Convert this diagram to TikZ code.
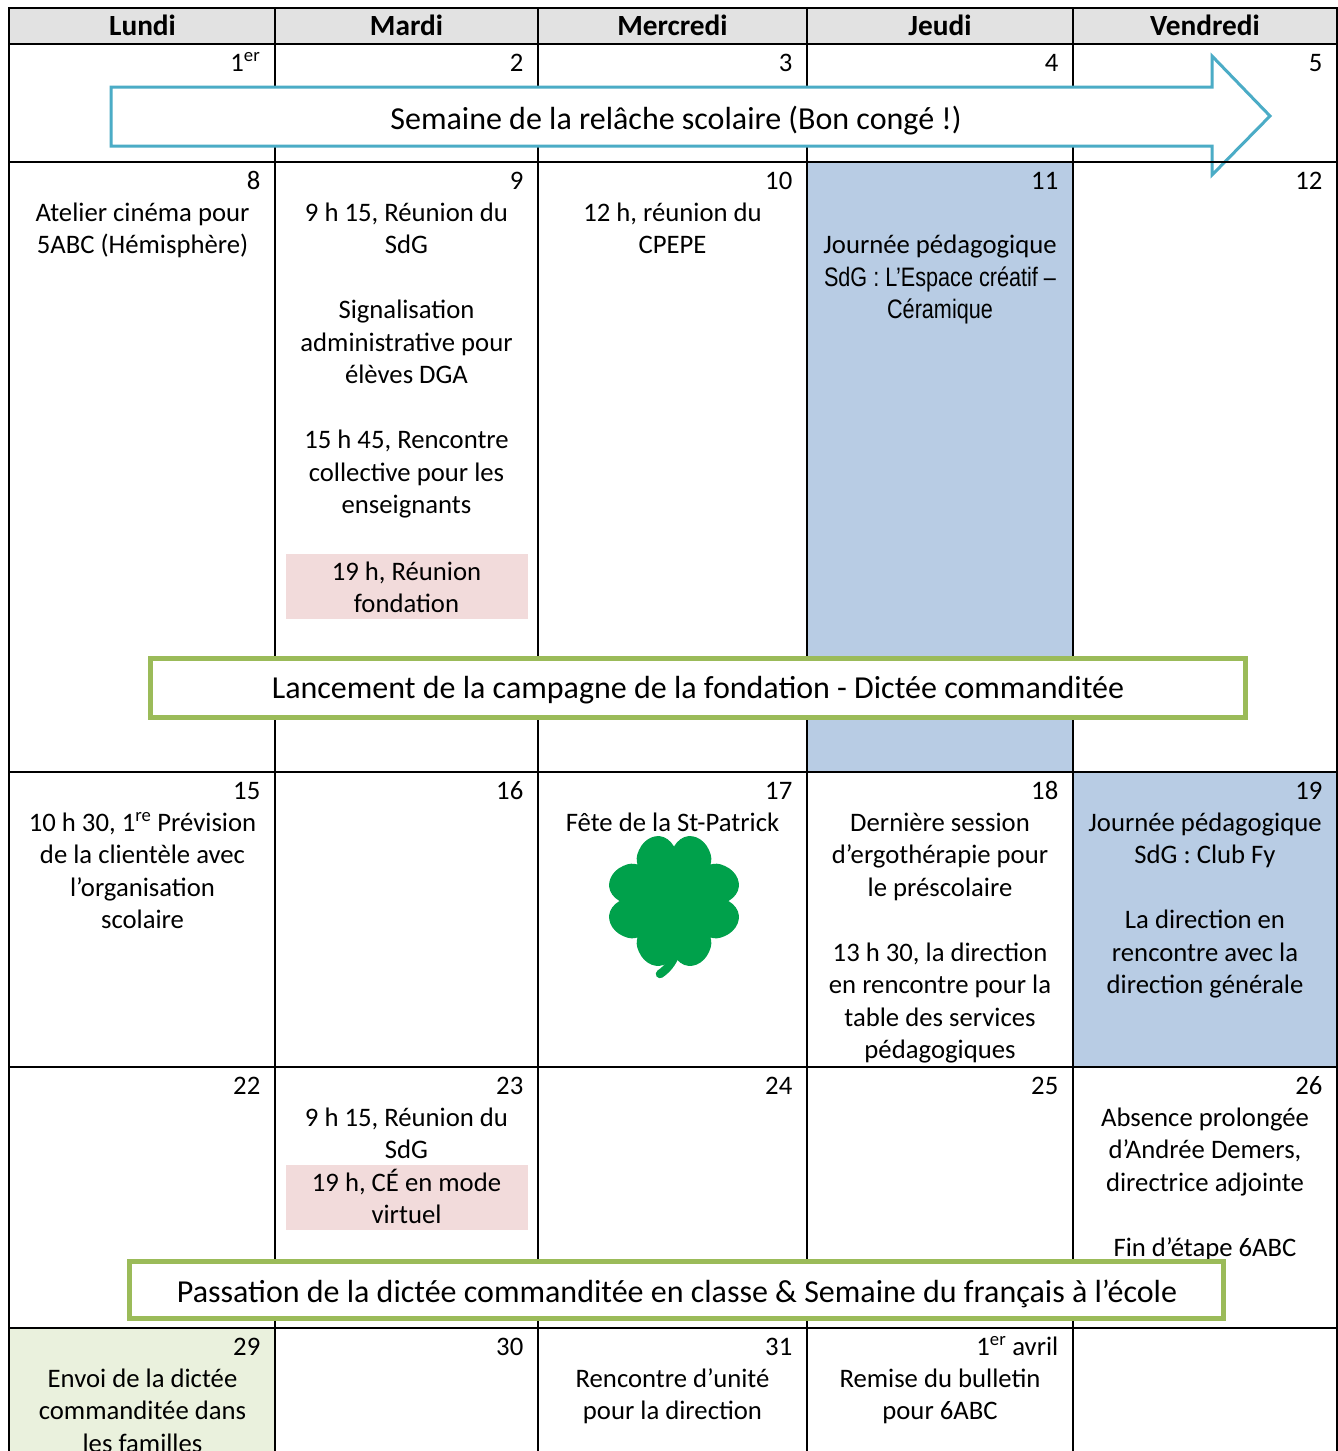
\documentclass[tikz,border=0pt]{standalone}
\usepackage{fontspec}
\setmainfont{Carlito}
\newfontfamily\narrowfont[FakeStretch=0.81]{Liberation Sans}
\definecolor{hdr}{RGB}{226,226,226}
\definecolor{bluec}{RGB}{184,204,228}
\definecolor{pinkc}{RGB}{242,219,219}
\definecolor{greenc}{RGB}{234,241,221}
\definecolor{bannerg}{RGB}{155,187,89}
\definecolor{arrowc}{RGB}{75,172,198}
\definecolor{cloverc}{RGB}{0,161,75}
\begin{document}
\begin{tikzpicture}[x=1pt,y=-1pt,
  body/.style={font=\fontsize{26.7}{32.5}\selectfont, inner sep=0pt},
  daynum/.style={body, anchor=base east},
  celltext/.style={body, anchor=base, text width=250pt, align=flush center},
  head/.style={font=\fontsize{29.3}{34}\selectfont\bfseries, inner sep=0pt, anchor=base},
  bigtext/.style={font=\fontsize{32}{38}\selectfont, inner sep=0pt, anchor=base},
  gridline/.style={line width=2.3pt, black},
  pinkbox/.style={fill=pinkc, draw=none, minimum width=242pt, minimum height=65pt, inner sep=0pt},
  banner/.style={draw=bannerg, line width=5pt, fill=white},
  leaf/.style={fill=cloverc}
]
\useasboundingbox (0,0) rectangle (1338,1451);
\clip (0,0) rectangle (1338,1451);
% backgrounds
\fill[white] (0,0) rectangle (1338,1451);
\fill[hdr] (9,8) rectangle (1337,44);
\fill[bluec] (807,162) rectangle (1073,772);
\fill[bluec] (1073,772) rectangle (1337,1067);
\fill[greenc] (9,1328) rectangle (275,1460);
\node[pinkbox] (pk1) at (407,586.5) {};
\node[pinkbox] (pk2) at (407,1197.5) {};
% grid
\draw[gridline] (9,8) rectangle (1337,1470);
\foreach \yy in {44,162,772,1067,1328} \draw[gridline] (9,\yy) -- (1337,\yy);
\foreach \xx in {275,538,807,1073} \draw[gridline] (\xx,8) -- (\xx,1470);
% arrow
\draw[arrowc, line width=3pt, fill=white, line join=miter] (111,87) -- (1212,87) -- (1212,56) -- (1270,116) -- (1212,175) -- (1212,146) -- (111,146) -- cycle;
\draw[gridline] (1073,162) -- (1337,162);
% headers
\node[head] (hLu) at (142.5,35.5) {Lundi};
\node[head] (hMa) at (406.5,35.5) {Mardi};
\node[head] (hMe) at (672.5,35.5) {Mercredi};
\node[head] (hJe) at (940,35.5) {Jeudi};
\node[head] (hVe) at (1205,35.5) {Vendredi};
% dates
\node[daynum] (d1) at (260.5,71) {1\textsuperscript{er}};
\node[daynum] (d2) at (523.5,71) {2};
\node[daynum] (d3) at (792.5,71) {3};
\node[daynum] (d4) at (1058.5,71) {4};
\node[daynum] (d5) at (1322.5,71) {5};
\node[daynum] (d8) at (260.5,189) {8};
\node[daynum] (d9) at (523.5,189) {9};
\node[daynum] (d10) at (792.5,189) {10};
\node[daynum] (d11) at (1058.5,189) {11};
\node[daynum] (d12) at (1322.5,189) {12};
\node[daynum] (d15) at (260.5,799) {15};
\node[daynum] (d16) at (523.5,799) {16};
\node[daynum] (d17) at (792.5,799) {17};
\node[daynum] (d18) at (1058.5,799) {18};
\node[daynum] (d19) at (1322.5,799) {19};
\node[daynum] (d22) at (260.5,1094) {22};
\node[daynum] (d23) at (523.5,1094) {23};
\node[daynum] (d24) at (792.5,1094) {24};
\node[daynum] (d25) at (1058.5,1094) {25};
\node[daynum] (d26) at (1322.5,1094) {26};
\node[daynum] (d29) at (260.5,1355) {29};
\node[daynum] (d30) at (523.5,1355) {30};
\node[daynum] (d31) at (792.5,1355) {31};
\node[daynum] (d32) at (1058.5,1355) {1\textsuperscript{er} avril};
% cell texts
\node[celltext] (t8) at (142.5,221) {Atelier cinéma pour\\5ABC (Hémisphère)};
\node[celltext] (t9) at (406.5,221) {9 h 15, Réunion du\\SdG\\[32.5pt]Signalisation\\administrative pour\\élèves DGA\\[32.5pt]15 h 45, Rencontre\\collective pour les\\enseignants};
\node[celltext] (t9b) at (406.5,580) {19 h, Réunion\\fondation};
\node[celltext] (t10) at (672.5,221) {12 h, réunion du\\CPEPE};
\node[celltext] (t11) at (940,253.5) {Journée pédagogique\\{\narrowfont SdG : L’Espace créatif –}\\{\narrowfont Céramique}};
\node[celltext] (t15) at (142.5,831) {10 h 30, 1\textsuperscript{re} Prévision\\de la clientèle avec\\l’organisation\\scolaire};
\node[celltext] (t17) at (672.5,831) {Fête de la St-Patrick};
\node[celltext] (t18) at (940,831) {Dernière session\\d’ergothérapie pour\\le préscolaire\\[32.5pt]13 h 30, la direction\\en rencontre pour la\\table des services\\pédagogiques};
\node[celltext] (t19) at (1205,831) {Journée pédagogique\\SdG : Club Fy\\[32.5pt]La direction en\\rencontre avec la\\direction générale};
\node[celltext] (t23) at (406.5,1126) {9 h 15, Réunion du\\SdG};
\node[celltext] (t23b) at (406.5,1191) {19 h, CÉ en mode\\virtuel};
\node[celltext] (t26) at (1205,1126) {Absence prolongée\\d’Andrée Demers,\\directrice adjointe\\[32.5pt]Fin d’étape 6ABC};
\node[celltext] (t29) at (142.5,1387) {Envoi de la dictée\\commanditée dans\\les familles};
\node[celltext] (t31) at (672.5,1387) {Rencontre d’unité\\pour la direction};
\node[celltext] (t32) at (940,1387) {Remise du bulletin\\pour 6ABC};
% clover
\draw[cloverc, line width=8.5pt, line cap=round] (674,901) .. controls (684,938) and (678,962) .. (660,974);
\foreach \a in {45,135,225,315} {
  \fill[leaf, shift={(674,901)}, rotate=\a, scale=0.89]
    (0,0) -- (24,24) .. controls (28,36) and (40,46) .. (54,44)
    .. controls (68,42) and (74,26) .. (68,12)
    .. controls (66,6) and (62,2) .. (58,0)
    .. controls (62,-2) and (66,-6) .. (68,-12)
    .. controls (74,-26) and (68,-42) .. (54,-44)
    .. controls (40,-46) and (28,-36) .. (24,-24) -- cycle;
}
% banners
\draw[banner] (150.5,658) rectangle (1245.5,717);
\draw[banner] (129.5,1261.5) rectangle (1223.5,1318);
% banner texts
\node[bigtext] (bA) at (676,129) {Semaine de la relâche scolaire (Bon congé !)};
\node[bigtext] (bB) at (698,698) {Lancement de la campagne de la fondation - Dictée commanditée};
\node[bigtext] (bC) at (677,1302) {Passation de la dictée commanditée en classe \& Semaine du français à l’école};
\end{tikzpicture}
\end{document}
